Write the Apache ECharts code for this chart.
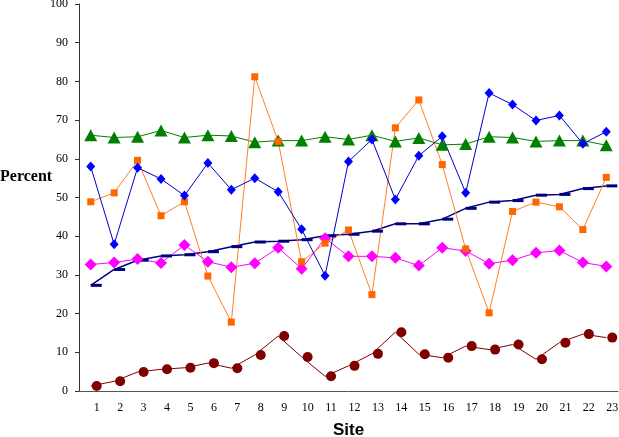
<!DOCTYPE html>
<html>
<head>
<meta charset="utf-8">
<script src="https://cdn.jsdelivr.net/npm/echarts@6/dist/echarts.min.js"></script>
<style>html,body{margin:0;padding:0;background:#fff;}#c{width:619px;height:437px;}</style>
</head>
<body>
<div id="c"></div>
<script>
const sites = ['1','2','3','4','5','6','7','8','9','10','11','12','13','14','15','16','17','18','19','20','21','22','23'];
const yTicks = [0,10,20,30,40,50,60,70,80,90,100];
const blueSeries = [58.0,37.9,57.7,54.8,50.5,58.9,52.0,55.0,51.5,41.8,29.8,59.3,65.0,49.5,60.8,65.8,51.2,77.0,74.0,69.9,71.2,63.9,67.0];
const greenSeries = [66.1,65.5,65.7,67.3,65.5,66.1,65.9,64.3,64.7,64.7,65.7,65.0,66.1,64.5,65.4,63.6,63.8,65.7,65.5,64.5,64.7,64.7,63.5];
const orangeSeries = [48.9,51.2,59.6,45.3,48.9,29.7,17.8,81.2,64.5,33.4,38.2,41.6,24.9,68.0,75.2,58.5,36.7,20.2,46.4,48.8,47.6,41.7,55.2];
const magentaSeries = [32.7,33.2,34.1,33.1,37.7,33.4,32.0,33.0,37.0,31.6,39.5,34.8,34.8,34.4,32.4,37.0,36.2,32.9,33.8,35.7,36.3,33.2,32.2];
const navySeries = [27.3,31.4,33.8,34.9,35.2,36.0,37.3,38.5,38.7,39.1,40.1,40.5,41.3,43.2,43.2,44.4,47.2,48.8,49.2,50.6,50.8,52.3,53.0];
const brownSeries = [1.3,2.5,4.9,5.6,6.0,7.2,5.9,9.3,14.2,8.8,3.8,6.5,9.6,15.2,9.5,8.6,11.6,10.7,12.0,8.2,12.5,14.7,13.8];

const chart = echarts.init(document.getElementById('c'), null, {renderer:'canvas'});
function line(name, data, color, symbol, size, extra) {
  return Object.assign({
    name: name, type: 'line', data: data, symbol: symbol, symbolSize: size,
    showAllSymbol: true, animation: false,
    lineStyle: {color: color, width: 1},
    itemStyle: {color: color, borderWidth: 0}
  }, extra || {});
}
chart.setOption({
  animation: false,
  backgroundColor: '#fff',
  grid: {left: 79, right: 1, top: 4, bottom: 46, containLabel: false, outerBoundsMode: 'none'},
  xAxis: {
    type: 'category', data: sites, boundaryGap: true,
    name: 'Site', nameLocation: 'middle', nameGap: 31,
    nameTextStyle: {fontFamily: 'Liberation Sans', fontWeight: 'bold', fontSize: 17, color: '#000', padding: [0,0,0,0]},
    axisLine: {lineStyle: {color: '#555', width: 1}},
    axisTick: {show: false},
    axisLabel: {interval: 0, fontFamily: 'Liberation Serif', fontSize: 12, color: '#000', margin: 11, padding: [0,0,0,12]},
    splitLine: {show: false}
  },
  yAxis: {
    type: 'value', min: 0, max: 100, interval: 10,
    axisLine: {show: true, lineStyle: {color: '#333', width: 1}},
    axisTick: {show: true, length: 4, lineStyle: {color: '#333'}},
    axisLabel: {fontFamily: 'Liberation Serif', fontSize: 12, color: '#000', margin: 11,
      customValues: yTicks},
    splitLine: {show: false}
  },
  graphic: [{
    type: 'text', left: 0, top: 169,
    style: {text: 'Percent', font: 'bold 16px "Liberation Serif"', fill: '#000'}
  }],
  series: [
    line('navy', navySeries, '#000080', 'rect', [11,3], {symbolOffset: [5.5,0], lineStyle: {color: '#000080', width: 1.5}}),
    line('brown', brownSeries, '#800000', 'circle', 10, {symbolOffset: [6,0]}),
    line('magenta', magentaSeries, '#ff00ff', 'diamond', [12,12]),
    line('green', greenSeries, '#008000', 'triangle', [13,12]),
    line('orange', orangeSeries, '#ff6600', 'rect', [7,7], {lineStyle: {color: '#ff7f27', width: 1}}),
    line('blue', blueSeries, '#0000ff', 'diamond', [9,10], {lineStyle: {color: '#0000cc', width: 1}})
  ]
});
</script>
</body>
</html>
